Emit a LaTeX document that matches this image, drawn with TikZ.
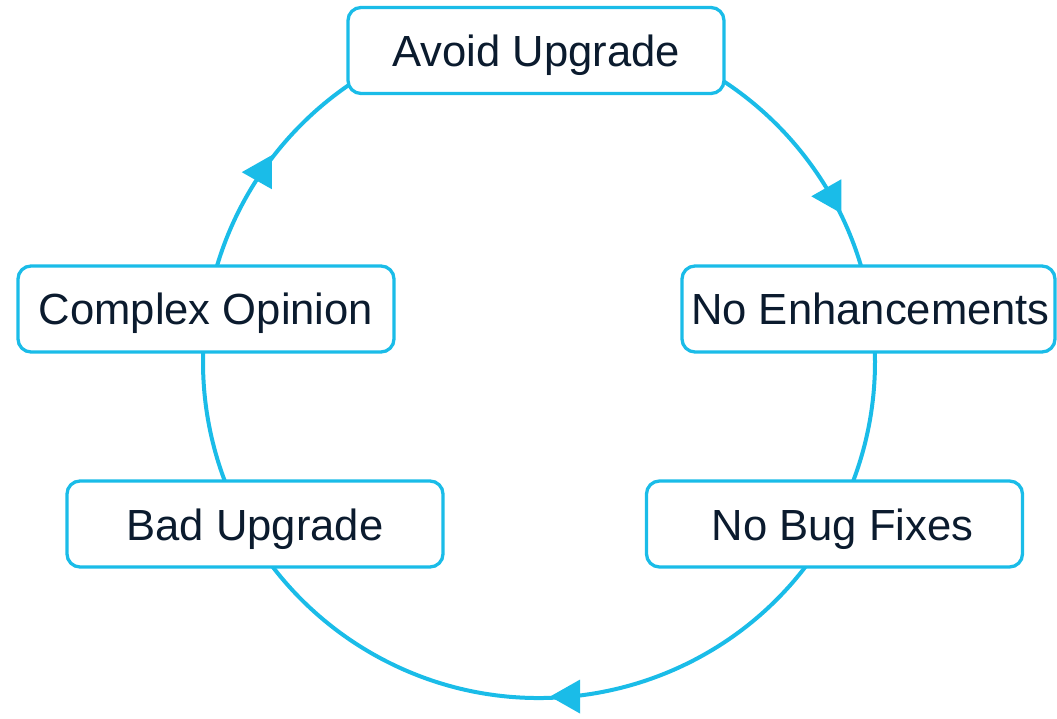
\documentclass[tikz,border=0pt]{standalone}
\usepackage{fontspec}
\setmainfont{Liberation Sans}
\usetikzlibrary{backgrounds,calc}
\definecolor{cyc}{HTML}{1ABCE8}
\definecolor{ink}{HTML}{0B1B2E}
\begin{document}
\begin{tikzpicture}[x=1pt,y=1pt,
  stagebox/.style={draw=cyc, line width=3.3pt, fill=white, rounded corners=13pt,
    minimum width=376pt, minimum height=86pt, inner sep=0pt,
    text=ink, font=\fontsize{43.6}{48}\selectfont, text height=32pt, text depth=0pt},
  ring/.style={draw=cyc, line width=4pt},
  tipmark/.style={fill=cyc, draw=none}]
\useasboundingbox (0,0) rectangle (1057,718);

% ring centre and radius
\coordinate (c) at (539,356);
\def\R{336}

% the five stages
\node[stagebox] (avoid)   at (536,667.5) {Avoid Upgrade};
\node[stagebox, minimum width=373pt] (noenh) at (868.5,409) {\hspace*{4pt}No Enhancements};
\node[stagebox] (nobug)   at (834.5,194) {\hspace*{16pt}No Bug Fixes};
\node[stagebox] (bad)     at (255,194) {Bad Upgrade};
\node[stagebox] (complex) at (206,409) {Complex Opinion};

% points where the ring passes under each stage
\coordinate (pavoid)   at ($(c)+(90:\R)$);
\coordinate (pnoenh)   at ($(c)+(9:\R)$);
\coordinate (pnobug)   at ($(c)+(-28.6:\R)$);
\coordinate (pbad)     at ($(c)+(-151.4:\R)$);
\coordinate (pcomplex) at ($(c)+(-189:\R)$);

% clockwise ring segments, behind the boxes
\begin{scope}[on background layer]
  \draw[ring] (pavoid)   arc[start angle=90,     end angle=9,      radius=\R];
  \draw[ring] (pnoenh)   arc[start angle=9,      end angle=-28.6,  radius=\R];
  \draw[ring] (pnobug)   arc[start angle=-28.6,  end angle=-151.4, radius=\R];
  \draw[ring] (pbad)     arc[start angle=-151.4, end angle=-189,   radius=\R];
  \draw[ring] (pcomplex) arc[start angle=-189,   end angle=-270,   radius=\R];
\end{scope}

% direction marks sitting on the ring
\coordinate (m1) at ($(c)+(29.55:\R)$);
\coordinate (m2) at ($(c)+(-84.7:\R)$);
\coordinate (m3) at ($(c)+(145.6:\R)$);
\foreach \m in {m1,m2,m3}
  \fill[tipmark] ($(\m)+(-20,0)$) -- ($(\m)+(10,17)$) -- ($(\m)+(10,-17)$) -- cycle;
\end{tikzpicture}
\end{document}
